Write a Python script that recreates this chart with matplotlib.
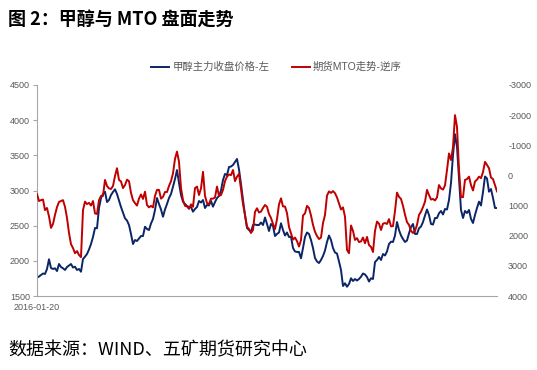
import pandas as pd
import matplotlib.pyplot as plt
from matplotlib.ticker import FuncFormatter

plt.rcParams['font.family'] = ['Liberation Sans', 'Noto Sans CJK SC', 'DejaVu Sans']

# 甲醇主力收盘价格 (左轴)
methanol = [
    1760, 1777, 1799, 1820, 1813, 1884, 2022, 1898, 1884, 1894,
    1855, 1955, 1912, 1894, 1870, 1912, 1934, 1955, 1905, 1917,
    1870, 1884, 1845, 2026, 2059, 2097, 2161, 2239, 2339, 2467,
    2463, 2751, 2893, 2950, 2983, 2836, 2865, 2936, 2979, 3017,
    2950, 2858, 2765, 2687, 2605, 2573, 2509, 2382, 2239, 2296,
    2282, 2318, 2353, 2353, 2485, 2453, 2438, 2531, 2595, 2723,
    2893, 2808, 2730, 2627, 2730, 2808, 2893, 2950, 3054, 3164,
    3291, 3107, 2936, 2841, 2808, 2780, 2765, 2765, 2699, 2737,
    2765, 2851, 2829, 2865, 2751, 2794, 2787, 2851, 2770, 2836,
    2893, 2922, 3000, 3149, 3235, 3220, 3334, 3341, 3363, 3405,
    3448, 3299, 3092, 2865, 2652, 2467, 2438, 2410, 2509, 2516,
    2509, 2509, 2545, 2509, 2616, 2524, 2424, 2524, 2495, 2353,
    2382, 2403, 2534, 2438, 2360, 2403, 2339, 2343, 2182, 2133,
    2126, 2126, 2036, 2182, 2339, 2403, 2382, 2296, 2182, 2040,
    1991, 1969, 2012, 2069, 2147, 2268, 2360, 2296, 2182, 2118,
    2104, 1991, 1870, 1642, 1681, 1632, 1671, 1752, 1713, 1742,
    1720, 1742, 1774, 1820, 1806, 1770, 1706, 1752, 1742, 1983,
    2012, 2055, 2012, 2097, 2076, 2133, 2239, 2272, 2268, 2360,
    2552, 2438, 2360, 2310, 2268, 2289, 2391, 2481, 2524, 2382,
    2382, 2463, 2488, 2552, 2645, 2730, 2652, 2524, 2516, 2609,
    2609, 2676, 2709, 2659, 2737, 2730, 2865, 3107, 3505, 3800,
    3620, 3178, 2723, 2609, 2709, 2680, 2723, 2595, 2538, 2652,
    2751, 2841, 2787, 2979, 3199, 3171, 2983, 3021, 2893, 2751,
    2751,
]

# 期货MTO走势 (右轴, 逆序)
mto = [
    620, 850, 820, 800, 1150, 1080, 1360, 1740, 1610, 1310,
    1050, 880, 850, 820, 1040, 1410, 1910, 2280, 2410, 2580,
    2510, 2640, 2710, 1150, 870, 950, 910, 1000, 850, 1260,
    1280, 820, 680, 680, 150, 350, 430, 450, 350, 20,
    -240, 150, 200, 420, 320, 140, 190, 580, 820, 920,
    1000, 770, 630, 780, 540, 980, 1060, 1010, 1060, 680,
    480, 480, 770, 710, 550, 550, 350, 190, -70, -550,
    -790, -450, 420, 820, 1010, 1030, 1110, 960, 1040, 420,
    370, 650, 430, -120, 680, 920, 950, 770, 770, 730,
    370, 680, 650, 480, 190, 40, -30, -10, -180, 190,
    40, -50, 450, 950, 1310, 1700, 1780, 1910, 1810, 1210,
    1090, 1230, 1200, 1080, 980, 1040, 1280, 1410, 1610, 1780,
    1450, 960, 760, 1030, 1030, 1250, 1710, 1920, 2130, 2060,
    2180, 2360, 2140, 1330, 1260, 1010, 1080, 1330, 1640, 1870,
    2010, 2110, 2060, 1580, 1310, 670, 530, 580, 520, 590,
    730, 930, 1130, 1060, 1370, 2470, 2580, 1660, 1840, 2140,
    2080, 2210, 2190, 2060, 2250, 2040, 2310, 2370, 2540, 1840,
    1530, 1600, 1810, 1600, 1580, 1610, 1450, 1690, 1680, 1180,
    570, 710, 780, 1010, 1300, 1550, 1640, 1840, 1910, 1840,
    1640, 1310, 1200, 1050, 870, 480, 650, 800, 780, 830,
    730, 320, 430, 470, 330, -180, -730, -510, -940, -2000,
    -1610, -180, 720, 720, 150, 120, 40, 320, 500, 200,
    140, 40, 90, -110, -450, -350, -240, 70, 120, 320,
    530,
]

dates = pd.date_range('2016-01-20', '2022-05-10', periods=len(methanol))

left_ticks = [1500, 2000, 2500, 3000, 3500, 4000, 4500]
right_ticks = [-3000, -2000, -1000, 0, 1000, 2000, 3000, 4000]

blue = '#0B2566'
red = '#C00000'
grey = '#595959'

fig = plt.figure(figsize=(5.37, 3.70), dpi=100)
ax = fig.add_axes([37 / 537, 0.2, 460 / 537, 211 / 370])
ax2 = ax.twinx()

l1, = ax.plot(dates, methanol, color=blue, lw=1.4, label='甲醇主力收盘价格-左')
l2, = ax2.plot(dates, mto, color=red, lw=1.4, label='期货MTO走势-逆序')

ax.set_xlim(dates[0], dates[-1])
ax.set_ylim(1500, 4500)
ax.set_yticks(left_ticks)
ax2.set_ylim(4000, -3000)
ax2.set_yticks(right_ticks)
ax2.yaxis.set_major_formatter(FuncFormatter(lambda v, p: str(int(v)).replace('\u2212', '-')))

ax.set_xticks([dates[0]])
ax.set_xticklabels(['2016-01-20'])

for a in (ax, ax2):
    for s in ('top', 'right'):
        a.spines[s].set_visible(False)
ax2.spines['left'].set_visible(False)
ax2.spines['bottom'].set_visible(False)
ax.spines['left'].set_color('#A6A6A6')
ax.spines['bottom'].set_color('#A6A6A6')

ax.tick_params(axis='y', labelsize=6.5, colors=grey, length=3, width=0.8, color='#A6A6A6', pad=2)
ax.tick_params(axis='x', labelsize=6.5, colors=grey, length=0, pad=5)
ax2.tick_params(axis='y', labelsize=6.5, colors=grey, length=0, pad=8)

fig.legend(handles=[l1, l2], loc='center', bbox_to_anchor=(0.515, 1 - 67 / 370),
           ncol=2, frameon=False, fontsize=7.5, labelcolor=grey,
           handlelength=1.7, handletextpad=0.3, columnspacing=2.2)

fig.text(8 / 537, 1 - 20 / 370, '图 2：甲醇与 MTO 盘面走势', fontsize=13, fontweight='bold',
         family=['Noto Sans CJK SC'], va='center', ha='left')
fig.text(8 / 537, 1 - 350 / 370, '数据来源：WIND、五矿期货研究中心', fontsize=13,
         family=['Noto Sans CJK SC'], va='center', ha='left')

fig.savefig('out.png', dpi=100)
